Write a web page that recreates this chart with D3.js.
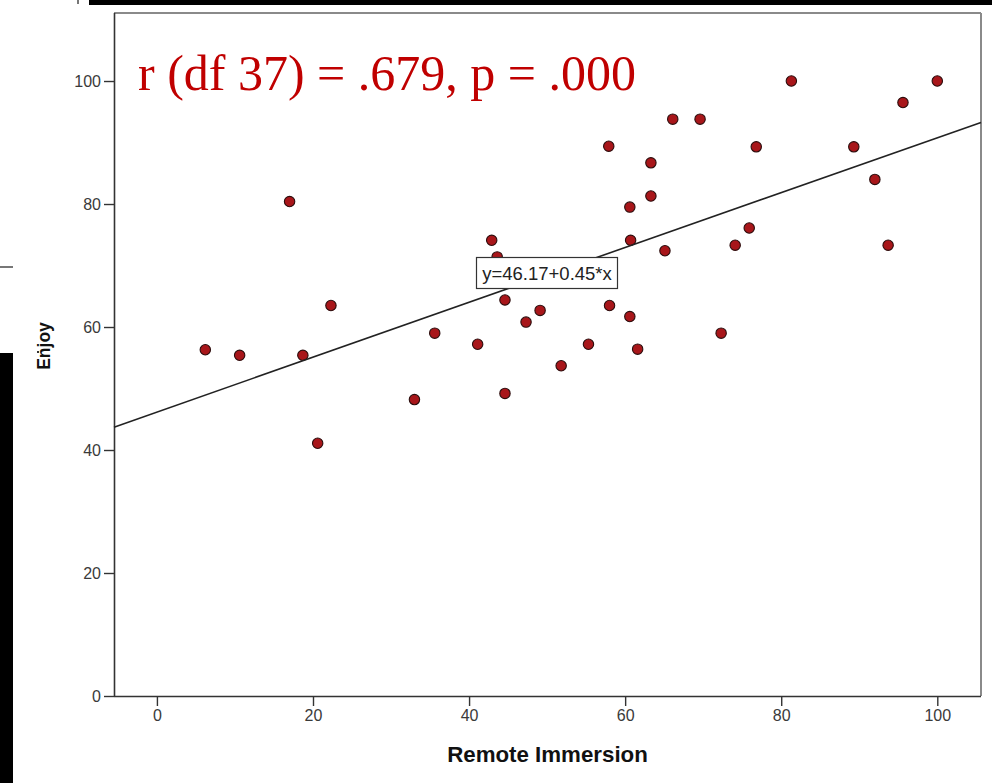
<!DOCTYPE html>
<html>
<head>
<meta charset="utf-8">
<script src="https://cdn.jsdelivr.net/npm/d3@7/dist/d3.min.js"></script>
<style>
  html, body { margin: 0; padding: 0; background: #fff; }
  svg { display: block; }
</style>
</head>
<body>
<svg id="chart" width="992" height="783"></svg>
<script>
// ---- data ----
const remoteImmersion = [6.2, 10.6, 17.0, 18.7, 20.6, 22.3, 33.0, 35.6, 41.1, 42.9, 43.6, 44.6, 44.6, 47.3, 49.1, 51.8, 55.3, 57.9, 58.0, 60.6, 60.7, 60.6, 61.6, 63.3, 63.3, 65.1, 66.1, 69.6, 72.3, 74.1, 75.9, 76.8, 81.3, 89.3, 92.0, 93.7, 95.6, 100];
const enjoy =           [56.3, 55.4, 80.4, 55.4, 41.1, 63.5, 48.2, 59.0, 57.2, 74.1, 71.4, 64.4, 49.2, 60.8, 62.7, 53.7, 57.2, 89.4, 63.5, 79.5, 74.1, 61.7, 56.4, 86.7, 81.3, 72.4, 93.8, 93.8, 59.0, 73.3, 76.1, 89.3, 100, 89.3, 84.0, 73.3, 96.5, 100];
const xTicks = [0, 20, 40, 60, 80, 100];
const yTicks = [0, 20, 40, 60, 80, 100];
const fitIntercept = 46.17;
const fitSlope = 0.446;
const fitLabel = "y=46.17+0.45*x";
const titleText = "r (df 37) = .679, p = .000";
const xTitle = "Remote Immersion";
const yTitle = "Enjoy";

// ---- layout ----
const svg = d3.select("#chart");
const L = 114, R = 981, T = 13, B = 696;
const x = d3.scaleLinear().domain([-5.5, 105.6]).range([L, R]);
const y = d3.scaleLinear().domain([0, 111.06]).range([B, T]);

// screenshot artefacts (black bars)
svg.append("rect").attr("x", 89).attr("y", 0).attr("width", 903).attr("height", 5).attr("fill", "#000");
svg.append("rect").attr("x", 77).attr("y", 0).attr("width", 2).attr("height", 4).attr("fill", "#777");
svg.append("rect").attr("x", 0).attr("y", 266).attr("width", 13).attr("height", 2).attr("fill", "#777");
svg.append("rect").attr("x", 0).attr("y", 353).attr("width", 13).attr("height", 430).attr("fill", "#000");
svg.append("rect").attr("x", 37).attr("y", 351).attr("width", 2).attr("height", 2).attr("fill", "#333");

// frame: top and right borders gray
svg.append("line").attr("x1", L).attr("x2", R).attr("y1", T).attr("y2", T)
  .attr("stroke", "#8a8a8a").attr("stroke-width", 2);
svg.append("line").attr("x1", R).attr("x2", R).attr("y1", T).attr("y2", B)
  .attr("stroke", "#8a8a8a").attr("stroke-width", 2);

// axes
const yAxis = d3.axisLeft(y).tickValues(yTicks).tickSize(10).tickPadding(3).tickSizeOuter(0);
const xAxis = d3.axisBottom(x).tickValues(xTicks).tickSize(10).tickPadding(4).tickSizeOuter(0);

const gy = svg.append("g").attr("transform", `translate(${L},0)`).call(yAxis);
const gx = svg.append("g").attr("transform", `translate(0,${B})`).call(xAxis);
[gx, gy].forEach(g => {
  g.select(".domain").attr("stroke", "#333").attr("stroke-width", 1.6);
  g.selectAll(".tick line").attr("stroke", "#333").attr("stroke-width", 1.4);
  g.selectAll(".tick text").attr("font-family", "Liberation Sans, Arial, sans-serif")
    .attr("font-size", 16).attr("fill", "#3a3a3a");
});
gx.select(".domain").attr("d", `M${L},0.5H${R}`);
gy.select(".domain").attr("d", `M0.5,${T}V${B}`);

// points
svg.append("g").selectAll("circle")
  .data(remoteImmersion.map((v, i) => [v, enjoy[i]]))
  .join("circle")
  .attr("cx", d => x(d[0]))
  .attr("cy", d => y(d[1]))
  .attr("r", 5.2)
  .attr("fill", "#a8161a")
  .attr("stroke", "#2b0d0d")
  .attr("stroke-width", 1.1);

// fit line
const [x0, x1] = x.domain();
svg.append("line")
  .attr("x1", x(x0)).attr("y1", y(fitIntercept + fitSlope * x0))
  .attr("x2", x(x1)).attr("y2", y(fitIntercept + fitSlope * x1))
  .attr("stroke", "#222").attr("stroke-width", 1.6);

// fit label box
const lx = 547, ly = 273;
svg.append("rect").attr("x", 476.5).attr("y", 257.5).attr("width", 141).attr("height", 31)
  .attr("fill", "#fff").attr("stroke", "#333").attr("stroke-width", 1.2);
svg.append("text").attr("x", lx).attr("y", ly).attr("text-anchor", "middle")
  .attr("dominant-baseline", "central")
  .attr("font-family", "Liberation Sans, Arial, sans-serif").attr("font-size", 18.5)
  .attr("fill", "#222").text(fitLabel);

// title annotation
svg.append("text").attr("x", 138).attr("y", 90)
  .attr("font-family", "Liberation Serif, 'Times New Roman', serif").attr("font-size", 50)
  .attr("fill", "#c00000").text(titleText);

// axis titles
svg.append("text").attr("x", 547.5).attr("y", 762).attr("text-anchor", "middle")
  .attr("font-family", "Liberation Sans, Arial, sans-serif").attr("font-weight", "bold")
  .attr("font-size", 22.3).attr("fill", "#111").text(xTitle);
svg.append("text").attr("transform", "translate(50,346) rotate(-90)").attr("text-anchor", "middle")
  .attr("font-family", "Liberation Sans, Arial, sans-serif").attr("font-weight", "bold")
  .attr("font-size", 17.5).attr("fill", "#111").text(yTitle);
</script>
</body>
</html>
